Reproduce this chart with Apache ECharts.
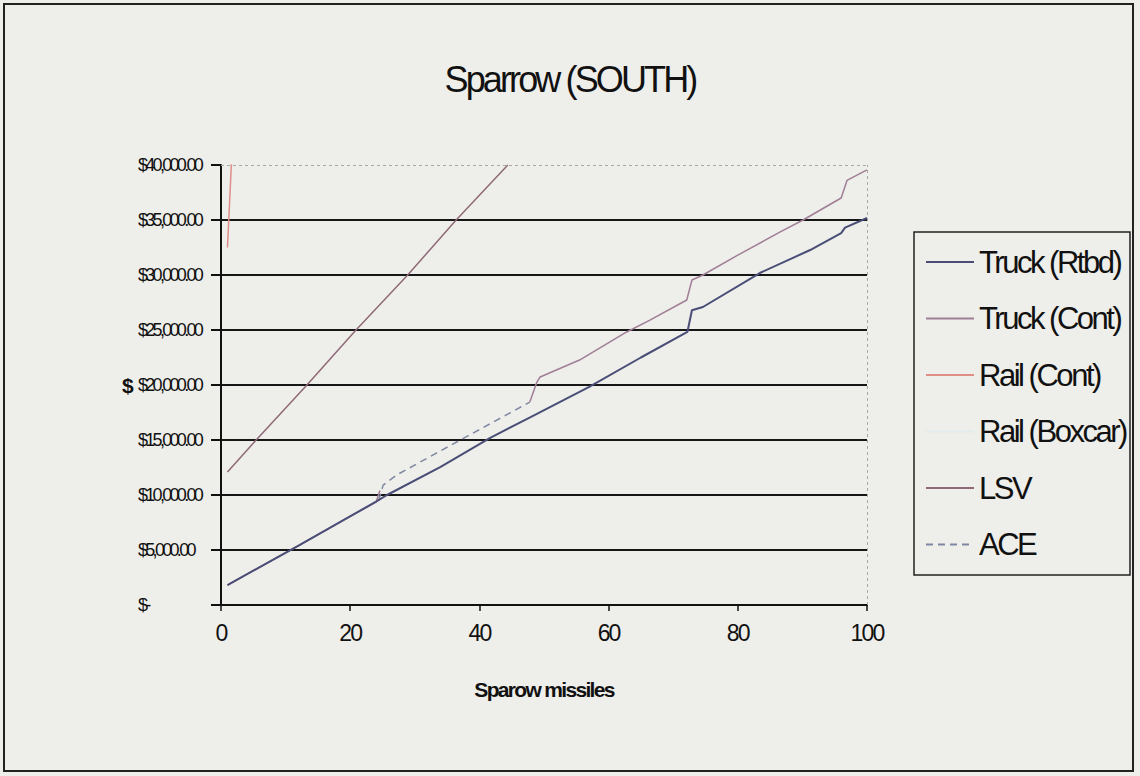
<!DOCTYPE html>
<html>
<head>
<meta charset="utf-8">
<script src="https://cdn.jsdelivr.net/npm/echarts@6/dist/echarts.min.js"></script>
<style>
  html, body { margin: 0; padding: 0; background: #eeeeea; }
  #chart { width: 1140px; height: 776px; }
  #chart svg text { letter-spacing: -0.08em; }
</style>
</head>
<body>
<div id="chart"></div>
<script>
// ---- data ----
const chartTitle = 'Sparrow (SOUTH)';
const xAxisName = 'Sparow missiles';
const yAxisName = '$';
const seriesNames = ['Truck (Rtbd)', 'Truck (Cont)', 'Rail (Cont)', 'Rail (Boxcar)', 'LSV', 'ACE'];
const yTickLabels = ['$-', '$5,000.00', '$10,000.00', '$15,000.00', '$20,000.00', '$25,000.00', '$30,000.00', '$35,000.00', '$40,000.00'];

const truckRtbd = [[1,1800],[6,3450],[12,5400],[18,7400],[24,9400],[25.7,10000],[34,12550],[41.6,15180],[48,17100],[57,19820],[65,22500],[72.2,24820],[72.9,26800],[74.6,27090],[83.4,30180],[91.2,32270],[96,33800],[96.6,34300],[100,35180]];
const truckCont = [[1,1800],[6,3450],[12,5400],[18,7400],[24,9350],[24.6,10400],null,[47.8,18450],[48.9,20270],[49.4,20730],[55.5,22270],[62.8,24820],[66.4,25900],[72.1,27730],[72.9,29550],[74.6,30000],[80,31800],[86.5,33900],[90.1,35000],[96,37000],[96.9,38600],[100,39550]];
const railCont = [[1,32500],[2,45000]];
const railBoxcar = [];
const lsv = [[1,12100],[5.3,14900],[13.3,20000],[20.9,25000],[28.9,30000],[36.4,35000],[44.4,40000]];
const ace = [[24.4,9500],[25.1,10900],[27.2,11820],[33,13700],[38,15300],[43.7,17130],[47.8,18450]];

const seriesData = [truckRtbd, truckCont, railCont, railBoxcar, lsv, ace];
const seriesColors = ['#4a4e76', '#a07e96', '#e08e88', '#e2ecec', '#8e6a78', '#7f88a2'];

const chart = echarts.init(document.getElementById('chart'), null, { renderer: 'svg' });
const font = '"Liberation Sans", Arial, sans-serif';

const series = seriesNames.map((name, i) => ({
  name: name,
  type: 'line',
  data: seriesData[i],
  symbol: 'none',
  connectNulls: false,
  clip: true,
  z: i === 0 ? 5 : 3,
  lineStyle: {
    color: seriesColors[i],
    width: i === 0 ? 2 : 1.5,
    type: name === 'ACE' ? [7, 5] : 'solid'
  },
  itemStyle: { color: seriesColors[i] }
}));

series[0].markLine = {
  silent: true,
  symbol: 'none',
  animation: false,
  label: { show: false },
  lineStyle: { color: '#a8a8a4', width: 1, type: [3, 3] },
  data: [{ yAxis: 40000 }, { xAxis: 100 }]
};

chart.setOption({
  animation: false,
  backgroundColor: '#eeeeea',
  title: {
    text: chartTitle,
    left: 'center',
    top: 56,
    textStyle: { fontFamily: font, fontSize: 36, fontWeight: 'normal', color: '#111' }
  },
  grid: { left: 221, top: 165, width: 646, height: 440, containLabel: false },
  legend: {
    orient: 'vertical',
    left: 925,
    top: 246,
    padding: 0,
    itemWidth: 48,
    itemHeight: 14,
    itemGap: 24.5,
    data: seriesNames,
    selectedMode: false,
    itemStyle: { opacity: 0, borderWidth: 0 },
    textStyle: { fontFamily: font, fontSize: 31, lineHeight: 32, color: '#111' }
  },
  xAxis: {
    type: 'value',
    min: 0,
    max: 100,
    interval: 20,
    name: xAxisName,
    nameLocation: 'middle',
    nameGap: 74,
    nameTextStyle: { fontFamily: font, fontSize: 21, fontWeight: 'bold', color: '#111' },
    axisLine: { show: true, lineStyle: { color: '#111', width: 2 } },
    axisTick: { show: true, length: 6, lineStyle: { color: '#111', width: 1.5 } },
    axisLabel: { margin: 16, fontFamily: font, fontSize: 23, color: '#111' },
    splitLine: { show: false }
  },
  yAxis: {
    type: 'value',
    min: 0,
    max: 40000,
    interval: 5000,
    name: yAxisName,
    nameLocation: 'middle',
    nameRotate: 0,
    nameGap: 88,
    nameTextStyle: { fontFamily: font, fontSize: 21, fontWeight: 'bold', color: '#111' },
    axisLine: { show: true, lineStyle: { color: '#111', width: 2 } },
    axisTick: { show: true, length: 10, lineStyle: { color: '#111', width: 2 } },
    axisLabel: {
      margin: 83,
      align: 'left',
      fontFamily: font,
      fontSize: 18,
      color: '#111',
      formatter: (v) => yTickLabels[Math.round(v / 5000)]
    },
    splitLine: { show: true, showMinLine: false, showMaxLine: false, lineStyle: { color: '#161616', width: 2 } }
  },
  graphic: [
    { type: 'rect', silent: true, z: 100, shape: { x: 4, y: 4, width: 1129, height: 767 }, style: { fill: 'none', stroke: '#222', lineWidth: 2 } },
    { type: 'rect', silent: true, z: 100, shape: { x: 914, y: 232, width: 216, height: 343 }, style: { fill: 'none', stroke: '#222', lineWidth: 1.5 } }
  ],
  series: series
});

// the reference's tick labels are printed tightly; tighten only those texts
function condenseYLabels() {
  document.querySelectorAll('#chart svg text').forEach(function (t) {
    if (yTickLabels.indexOf(t.textContent) >= 0) { t.style.letterSpacing = '-0.15em'; }
  });
}
condenseYLabels();
chart.on('finished', condenseYLabels);
</script>
</body>
</html>
